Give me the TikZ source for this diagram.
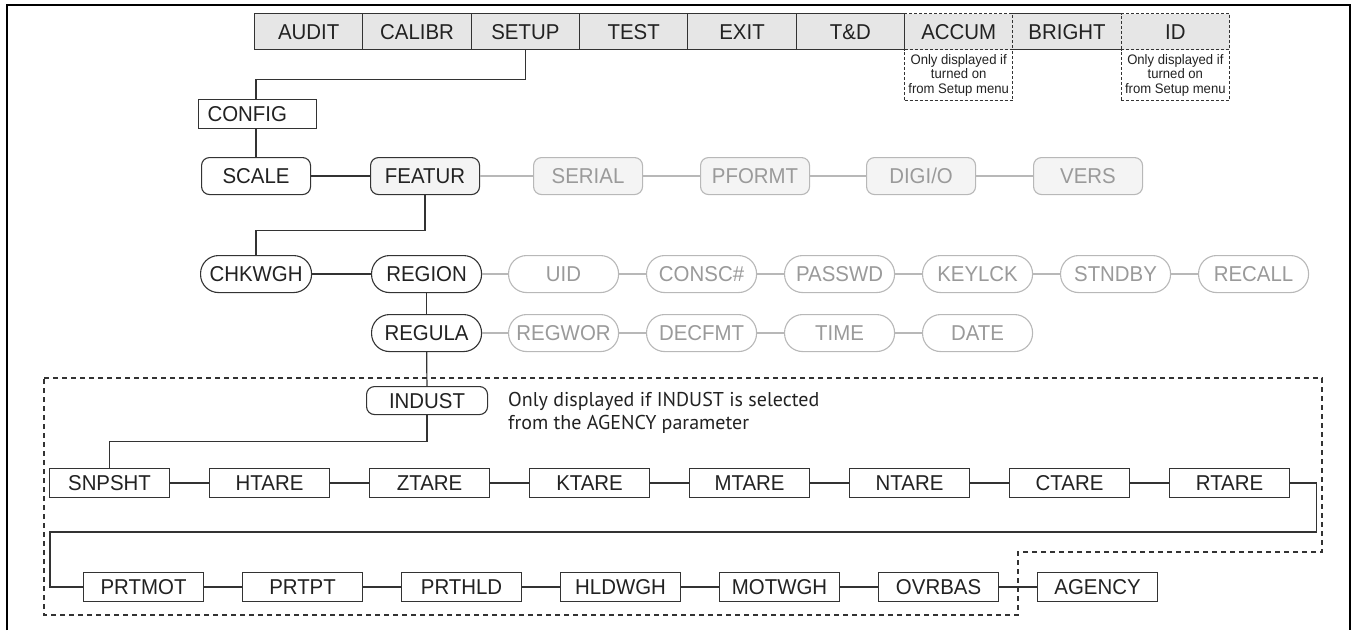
\documentclass[tikz,border=0pt]{standalone}
\usepackage{fontspec}
\setmainfont{Liberation Sans}[FakeStretch=0.95]
\newfontfamily\notefont{PT Sans}
\usetikzlibrary{calc}
\definecolor{ln}{HTML}{333333}
\definecolor{txt}{HTML}{222222}
\definecolor{gtxt}{HTML}{9A9A9A}
\definecolor{gln}{HTML}{B8B8B8}
\definecolor{barfill}{HTML}{E6E6E6}
\definecolor{lfill}{HTML}{F4F4F4}
\begin{document}
\begin{tikzpicture}[x=1pt,y=-1pt,
  lbl/.style={font=\fontsize{21.5}{21.5}\selectfont, text=txt, inner sep=0pt, text height=15.3pt, text depth=0pt, anchor=north west, line width=1.1pt},
  barbox/.style={lbl, draw=ln, fill=barfill, minimum width=108.33, minimum height=36},
  dbarbox/.style={barbox, dash pattern=on 3pt off 2pt},
  notebox/.style={draw=ln, fill=white, dash pattern=on 3pt off 2pt, line width=1pt, anchor=north west, minimum width=108.33, minimum height=51, inner sep=0pt, align=center, font=\fontsize{13.8}{14.5}\selectfont, text=txt},
  rbox/.style={lbl, draw=ln, fill=white, minimum width=120, minimum height=29},
  rr/.style={lbl, draw=ln, fill=white, rounded corners=8, minimum width=109, minimum height=37},
  rrf/.style={rr, fill=lfill},
  rrg/.style={rr, draw=gln, fill=lfill, text=gtxt},
  pill/.style={lbl, draw=ln, fill=white, rounded corners=18, minimum width=110, minimum height=37},
  pillg/.style={pill, draw=gln, text=gtxt},
  conn/.style={draw=ln, line width=1.2pt},
  gconn/.style={draw=gln, line width=1.2pt},
  region/.style={draw=ln, line width=1.1pt, dash pattern=on 5pt off 4pt}
]
\useasboundingbox (0,0) rectangle (1353,630);

% frame
\draw[line width=2.5pt, black] (7,630) -- (7,5) -- (1350,5) -- (1350,630);

% notes under ACCUM / ID
\node[notebox] (accnote) at (904,49) {Only displayed if\\turned on\\from Setup menu};
\node[notebox] (idnote) at (1120.67,49) {Only displayed if\\turned on\\from Setup menu};

% top bar
\node[barbox] (audit) at (254,13) {AUDIT};
\node[barbox] (calibr) at (362.33,13) {CALIBR};
\node[barbox] (setup) at (470.67,13) {SETUP};
\node[barbox] (test) at (579,13) {TEST};
\node[barbox] (exit) at (687.33,13) {EXIT};
\node[barbox] (td) at (795.67,13) {T\&D};
\node[barbox] (bright) at (1012.33,13) {BRIGHT};
\node[dbarbox] (accum) at (904,13) {ACCUM};
\node[dbarbox] (id) at (1120.67,13) {ID};

% config
\node[rbox, minimum width=118, text width=100pt, inner xsep=9pt, align=left] (config) at (198,99) {CONFIG};

% scale row
\node[rr] (scale) at (201,157) {SCALE};
\node[rrf] (featur) at (370,157) {FEATUR};
\node[rrg] (serial) at (533,157) {SERIAL};
\node[rrg] (pformt) at (700,157) {PFORMT};
\node[rrg] (digio) at (866,157) {DIGI/O};
\node[rrg] (vers) at (1033,157) {VERS};

% chkwgh row
\node[pill, minimum width=111] (chkwgh) at (200,255) {CHKWGH};
\node[pill] (region) at (371,255) {REGION};
\node[pillg] (uid) at (508,255) {UID};
\node[pillg] (consc) at (646,255) {CONSC\#};
\node[pillg] (passwd) at (784,255) {PASSWD};
\node[pillg] (keylck) at (922,255) {KEYLCK};
\node[pillg] (stndby) at (1060,255) {STNDBY};
\node[pillg] (recall) at (1198,255) {RECALL};

% regula row
\node[pill] (regula) at (371,314) {REGULA};
\node[pillg] (regwor) at (508,314) {REGWOR};
\node[pillg] (decfmt) at (646,314) {DECFMT};
\node[pillg] (time) at (784,314) {TIME};
\node[pillg] (date) at (922,314) {DATE};

% dashed region
\draw[region] (44,378) -- (1322,378) -- (1322,552) -- (1018,552) -- (1018,615) -- (44,615) -- cycle;

% indust
\node[rr, minimum width=121, minimum height=28] (indust) at (366,386) {INDUST};
\node[anchor=west, align=left, inner sep=0pt, font=\notefont\fontsize{20}{23.5}\selectfont, text=txt] (inote) at (508,413) {Only displayed if INDUST is selected\\from the AGENCY parameter};

% row 1
\node[rbox] (snpsht) at (49,468) {SNPSHT};
\node[rbox] (htare) at (209,468) {HTARE};
\node[rbox] (ztare) at (369,468) {ZTARE};
\node[rbox] (ktare) at (529,468) {KTARE};
\node[rbox] (mtare) at (689,468) {MTARE};
\node[rbox] (ntare) at (849,468) {NTARE};
\node[rbox] (ctare) at (1009,468) {CTARE};
\node[rbox] (rtare) at (1169,468) {RTARE};

% row 2
\node[rbox] (prtmot) at (83,572) {PRTMOT};
\node[rbox] (prtpt) at (242,572) {PRTPT};
\node[rbox] (prthld) at (401,572) {PRTHLD};
\node[rbox] (hldwgh) at (560,572) {HLDWGH};
\node[rbox] (motwgh) at (719,572) {MOTWGH};
\node[rbox] (ovrbas) at (878,572) {OVRBAS};
\node[rbox] (agency) at (1037,572) {AGENCY};

% connectors
\draw[conn] (setup.south) -- ++(0,29) -| (scale.north |- config.north);
\draw[conn] (scale.north |- config.south) -- (scale.north);
\draw[conn] (scale) -- (featur);
\draw[gconn] (featur) -- (serial);
\draw[gconn] (serial) -- (pformt);
\draw[gconn] (pformt) -- (digio);
\draw[gconn] (digio) -- (vers);
\draw[conn] (featur.south) -- ++(0,35) -| (chkwgh.north);
\draw[conn] (chkwgh) -- (region);
\draw[gconn] (region) -- (uid);
\draw[gconn] (uid) -- (consc);
\draw[gconn] (consc) -- (passwd);
\draw[gconn] (passwd) -- (keylck);
\draw[gconn] (keylck) -- (stndby);
\draw[gconn] (stndby) -- (recall);
\draw[conn] (region) -- (regula);
\draw[gconn] (regula) -- (regwor);
\draw[gconn] (regwor) -- (decfmt);
\draw[gconn] (decfmt) -- (time);
\draw[gconn] (time) -- (date);
\draw[conn] (regula) -- (indust);
\draw[conn] (indust.south) -- ++(0,26) -| (snpsht.north);
\draw[conn] (snpsht) -- (htare);
\draw[conn] (htare) -- (ztare);
\draw[conn] (ztare) -- (ktare);
\draw[conn] (ktare) -- (mtare);
\draw[conn] (mtare) -- (ntare);
\draw[conn] (ntare) -- (ctare);
\draw[conn] (ctare) -- (rtare);
\draw[conn] (rtare.east) -- ++(26,0) -- ++(0,49) -| ([xshift=-33pt]prtmot.west) -- (prtmot.west);
\draw[conn] (prtmot) -- (prtpt);
\draw[conn] (prtpt) -- (prthld);
\draw[conn] (prthld) -- (hldwgh);
\draw[conn] (hldwgh) -- (motwgh);
\draw[conn] (motwgh) -- (ovrbas);
\draw[conn] (ovrbas) -- (agency);
\end{tikzpicture}
\end{document}
